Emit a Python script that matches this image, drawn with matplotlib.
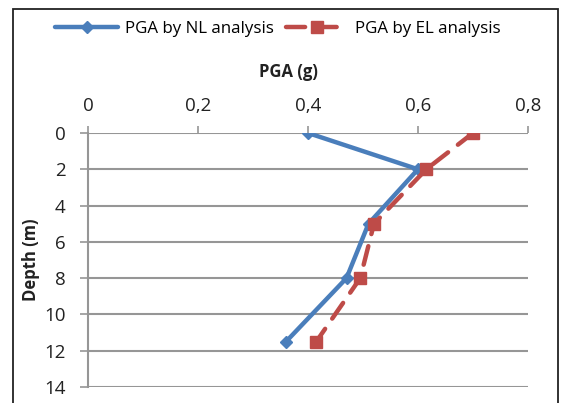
import matplotlib
matplotlib.use("Agg")
import matplotlib.pyplot as plt
from matplotlib.ticker import FuncFormatter
from matplotlib.patches import Rectangle

plt.rcParams['font.family'] = ['Open Sans', 'DejaVu Sans']

depth = [0, 2, 5, 8, 11.5]
pga_nl = [0.40, 0.60, 0.51, 0.47, 0.36]
pga_el = [0.70, 0.615, 0.52, 0.495, 0.415]
x_ticks = [0, 0.2, 0.4, 0.6, 0.8]
y_ticks = [0, 2, 4, 6, 8, 10, 12, 14]

blue = '#4A7EBB'
red = '#BE4B48'
grid = '#969696'

fig = plt.figure(figsize=(5.61, 4.03), dpi=100)
ax = fig.add_axes([88/561, 1-387/403, (528-88)/561, (387-133)/403])

ax.plot(pga_nl, depth, color=blue, lw=3.2, marker='D', ms=6, mfc=blue, mec=blue,
        label='PGA by NL analysis', zorder=3, solid_capstyle='round')
ax.plot(pga_el, depth, color=red, lw=3.2, ls=(0, (4.3, 2.8)), marker='s', ms=9, mfc=red, mec=red,
        label='PGA by EL analysis', zorder=3, dash_capstyle='round')

ax.set_xlim(0, 0.8)
ax.set_ylim(14, 0)
ax.set_xticks(x_ticks)
ax.set_yticks(y_ticks)
fmt = FuncFormatter(lambda v, p: ('%g' % v).replace('.', ','))
ax.xaxis.set_major_formatter(fmt)
ax.xaxis.tick_top()
ax.tick_params(axis='x', which='both', length=5, color=grid, width=1.2, labelsize=13.5, pad=8,
               labelcolor='#222222')
ax.tick_params(axis='y', length=6, color=grid, width=1.2, labelsize=13.5, pad=10, labelcolor='#222222')
for s in ['right', 'bottom', 'top']:
    ax.spines[s].set_visible(False)
ax.spines['left'].set_color(grid)
ax.spines['left'].set_linewidth(1.5)
ax.yaxis.grid(True, color=grid, lw=1.5)
ax.set_axisbelow(True)

fig.text(288/561, 1-72/403, 'PGA (g)', ha='center', va='center', fontsize=12, fontweight='bold',
         color='#222222')
fig.text(31/561, 1-260/403, 'Depth (m)', ha='center', va='center', rotation=90, fontsize=12,
         fontweight='bold', color='#222222')

leg = fig.legend(loc='center', bbox_to_anchor=(278/561, 1-29/403), ncol=2, frameon=False,
                 fontsize=12.2, handlelength=3.7, columnspacing=0.7, handletextpad=0.4)

fig.patches.append(Rectangle((13/561, -0.05), (558-13)/561, 1.05-9/403, transform=fig.transFigure,
                             fill=False, ec='#222222', lw=1.3))

fig.savefig('out.png', dpi=100)
